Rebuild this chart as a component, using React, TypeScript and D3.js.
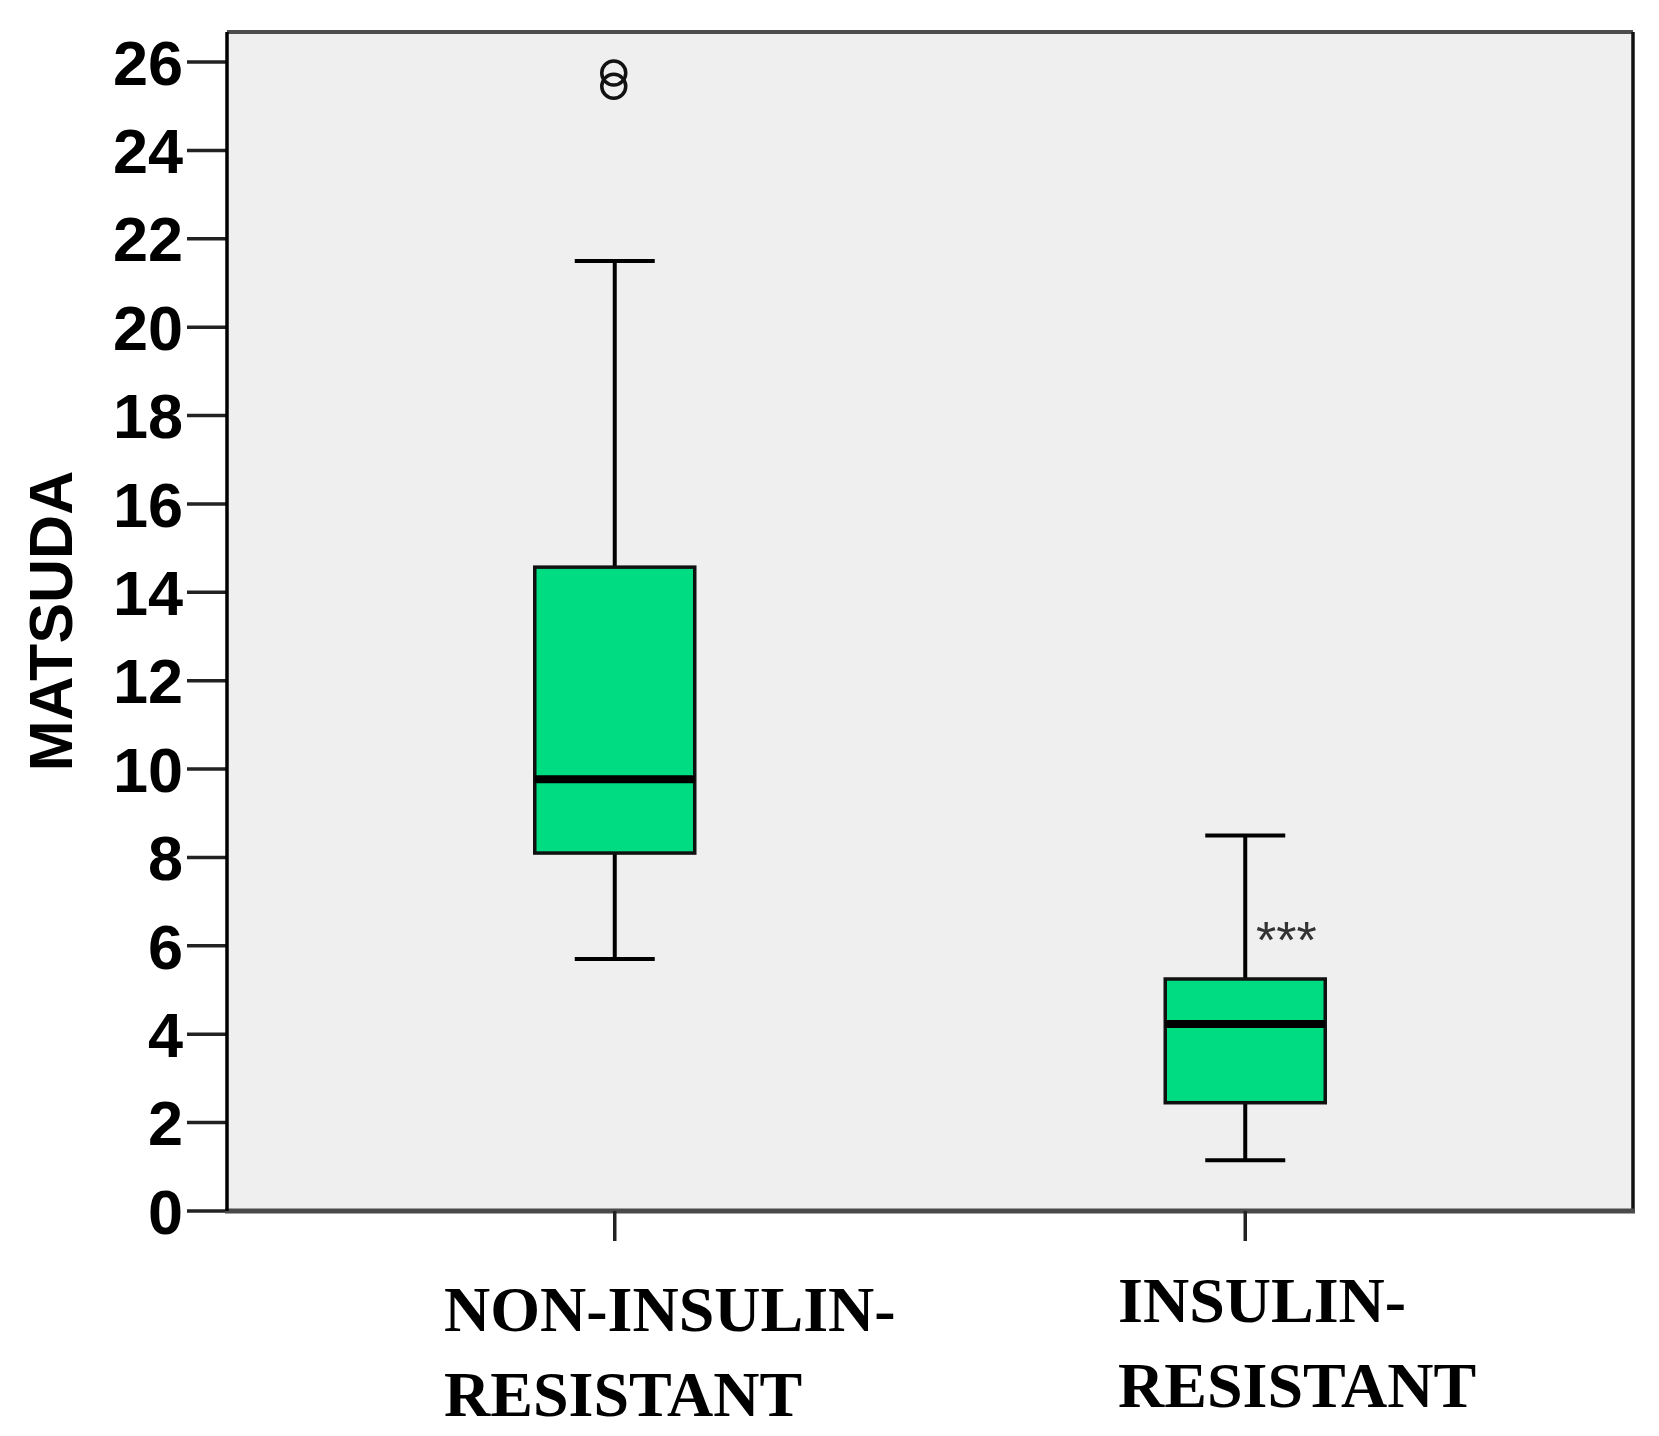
import * as d3 from "d3";

// groups and their box statistics
const groups = ["NON-INSULIN-RESISTANT", "INSULIN-RESISTANT"];
const labelLines = [
  ["NON-INSULIN-", "RESISTANT"],
  ["INSULIN-", "RESISTANT"],
];
const whiskerLow = [5.7, 1.15];
const q1 = [8.1, 2.45];
const median = [9.77, 4.23];
const q3 = [14.57, 5.25];
const whiskerHigh = [21.5, 8.5];
// outliers drawn as circles: [group index, value]
const outliers = [
  [0, 25.75],
  [0, 25.45],
];
const yTicks = [0, 2, 4, 6, 8, 10, 12, 14, 16, 18, 20, 22, 24, 26];

const W = 1659;
const H = 1436;
const left = 227;
const right = 1633;
const top = 32;
const bottom = 1211;

export default function App() {
  const y = d3.scaleLinear().domain([0, 26.68]).range([bottom, top]);
  const x = d3.scalePoint().domain(groups).range([left, right]).padding(0.615);

  const boxW = 160;
  const capW = 80;
  const green = "#00dc82";

  return (
    <svg
      width={W}
      height={H}
      style={{ display: "block", position: "absolute", left: 0, top: 0 }}
    >
      <rect width={W} height={H} fill="#fff" />
      {/* plot area */}
      <rect x={left} y={top} width={right - left} height={bottom - top} fill="#efefef" />
      <line x1={left} x2={right} y1={top} y2={top} stroke="#4d4d4d" strokeWidth={4} />
      <line x1={right} x2={right} y1={top} y2={bottom} stroke="#111" strokeWidth={3.5} />

      {/* y ticks */}
      {yTicks.map((t) => (
        <g key={t}>
          <line x1={187} x2={left} y1={y(t)} y2={y(t)} stroke="#222" strokeWidth={3.5} />
          <text
            x={183}
            y={y(t)}
            dy="0.36em"
            textAnchor="end"
            fontFamily="Liberation Sans, Arial, sans-serif"
            fontWeight="bold"
            fontSize={63}
            fill="#000"
          >
            {t}
          </text>
        </g>
      ))}
      <text
        transform={`translate(72, 621) rotate(-90)`}
        textAnchor="middle"
        fontFamily="Liberation Sans, Arial, sans-serif"
        fontWeight="bold"
        fontSize={61}
        fill="#000"
      >
        MATSUDA
      </text>

      {/* boxes */}
      {groups.map((g, i) => {
        const cx = x(g) as number;
        return (
          <g key={g}>
            <line x1={cx} x2={cx} y1={y(whiskerHigh[i])} y2={y(q3[i])} stroke="#000" strokeWidth={4} />
            <line x1={cx} x2={cx} y1={y(q1[i])} y2={y(whiskerLow[i])} stroke="#000" strokeWidth={4} />
            <line x1={cx - capW / 2} x2={cx + capW / 2} y1={y(whiskerHigh[i])} y2={y(whiskerHigh[i])} stroke="#000" strokeWidth={4} />
            <line x1={cx - capW / 2} x2={cx + capW / 2} y1={y(whiskerLow[i])} y2={y(whiskerLow[i])} stroke="#000" strokeWidth={4} />
            <rect
              x={cx - boxW / 2}
              y={y(q3[i])}
              width={boxW}
              height={y(q1[i]) - y(q3[i])}
              fill={green}
              stroke="#111"
              strokeWidth={3.5}
            />
            <line
              x1={cx - boxW / 2}
              x2={cx + boxW / 2}
              y1={y(median[i])}
              y2={y(median[i])}
              stroke="#000"
              strokeWidth={8}
            />
          </g>
        );
      })}

      {outliers.map(([gi, v], k) => (
        <circle
          key={k}
          cx={(x(groups[gi]) as number) - 1}
          cy={y(v)}
          r={12}
          fill="none"
          stroke="#111"
          strokeWidth={3.5}
        />
      ))}

      {/* significance mark */}
      <text
        x={1256}
        y={958}
        fontFamily="Liberation Sans, Arial, sans-serif"
        fontSize={52}
        fill="#333"
      >
        ***
      </text>

      {/* bottom axis */}
      <line x1={left - 2} x2={right + 2} y1={bottom} y2={bottom} stroke="#4a4a4a" strokeWidth={5} />
      <line x1={left} x2={left} y1={top} y2={bottom} stroke="#000" strokeWidth={3.5} />
      {groups.map((g) => (
        <line
          key={g}
          x1={x(g) as number}
          x2={x(g) as number}
          y1={bottom}
          y2={bottom + 30}
          stroke="#222"
          strokeWidth={3.5}
        />
      ))}
      {groups.map((g, i) => (
        <text
          key={g}
          x={i === 0 ? 444 : 1118}
          y={i === 0 ? 1331 : 1322}
          fontFamily="Liberation Serif, Times New Roman, serif"
          fontWeight="bold"
          fontSize={64}
          fill="#000"
        >
          {labelLines[i].map((line, j) => (
            <tspan key={j} x={i === 0 ? 444 : 1118} dy={j === 0 ? 0 : 85}>
              {line}
            </tspan>
          ))}
        </text>
      ))}
    </svg>
  );
}
